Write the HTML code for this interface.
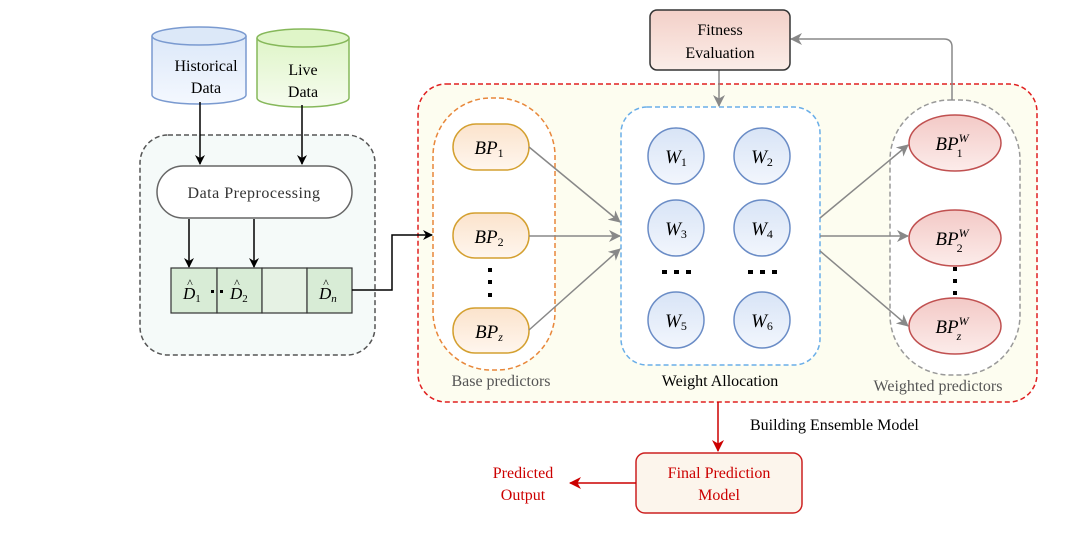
<!DOCTYPE html>
<html><head><meta charset="utf-8"><style>
html,body{margin:0;padding:0;background:#fff;}
svg{display:block;font-family:"Liberation Serif",serif;}
</style></head><body>
<svg width="1080" height="542" viewBox="0 0 1080 542" xmlns="http://www.w3.org/2000/svg">
<defs>
<marker id="ab" markerWidth="10" markerHeight="10" refX="9" refY="5" orient="auto" markerUnits="userSpaceOnUse"><path d="M0,0 L10,5 L0,10 L3,5 z" fill="#000"/></marker>
<marker id="ag" markerWidth="12" markerHeight="12" refX="11" refY="6" orient="auto" markerUnits="userSpaceOnUse"><path d="M0,0 L12,6 L0,12 L3.5,6 z" fill="#888"/></marker>
<marker id="ar" markerWidth="12" markerHeight="12" refX="11" refY="6" orient="auto" markerUnits="userSpaceOnUse"><path d="M0,0 L12,6 L0,12 L3.5,6 z" fill="#cc0000"/></marker>
<linearGradient id="gb" x1="0" y1="0" x2="0" y2="1"><stop offset="0" stop-color="#dce8f8"/><stop offset="1" stop-color="#f4f8ff"/></linearGradient>
<linearGradient id="gg" x1="0" y1="0" x2="0" y2="1"><stop offset="0" stop-color="#dff5c8"/><stop offset="1" stop-color="#f6fcef"/></linearGradient>
<linearGradient id="go" x1="0" y1="0" x2="0" y2="1"><stop offset="0" stop-color="#fbe3cc"/><stop offset="1" stop-color="#fff6ee"/></linearGradient>
<linearGradient id="gw" x1="0" y1="0" x2="0" y2="1"><stop offset="0" stop-color="#d8e4f6"/><stop offset="1" stop-color="#f2f6fd"/></linearGradient>
<linearGradient id="gr" x1="0" y1="0" x2="0" y2="1"><stop offset="0" stop-color="#f3c9c6"/><stop offset="1" stop-color="#fcecea"/></linearGradient>
<linearGradient id="gf" x1="0" y1="0" x2="0" y2="1"><stop offset="0" stop-color="#f3d0c8"/><stop offset="1" stop-color="#fbede8"/></linearGradient>
</defs>

<rect x="140" y="135" width="235" height="220" rx="28" fill="#f5faf9" stroke="#555" stroke-width="1.5" stroke-dasharray="5,3"/>

<path d="M152,36 L152,95 A47,9 0 0 0 246,95 L246,36" fill="url(#gb)" stroke="#7a9ad0" stroke-width="1.5"/>
<ellipse cx="199" cy="36" rx="47" ry="9" fill="#dce8f8" stroke="#7a9ad0" stroke-width="1.5"/>
<text x="206" y="71" font-size="16" text-anchor="middle">Historical</text>
<text x="206" y="93" font-size="16" text-anchor="middle">Data</text>
<path d="M257,38 L257,98 A46,9 0 0 0 349,98 L349,38" fill="url(#gg)" stroke="#86b85a" stroke-width="1.5"/>
<ellipse cx="303" cy="38" rx="46" ry="9" fill="#dff5c8" stroke="#86b85a" stroke-width="1.5"/>
<text x="303" y="75" font-size="16" text-anchor="middle">Live</text>
<text x="303" y="97" font-size="16" text-anchor="middle">Data</text>

<line x1="200" y1="102" x2="200" y2="164" stroke="#000" stroke-width="1.5" marker-end="url(#ab)"/>
<line x1="302" y1="105" x2="302" y2="164" stroke="#000" stroke-width="1.5" marker-end="url(#ab)"/>

<rect x="157" y="166" width="195" height="52" rx="26" fill="#fff" stroke="#666" stroke-width="1.5"/>
<text x="254" y="198" font-size="16" text-anchor="middle" fill="#333" letter-spacing="0.5">Data  Preprocessing</text>

<line x1="189" y1="219" x2="189" y2="267" stroke="#000" stroke-width="1.5" marker-end="url(#ab)"/>
<line x1="254" y1="219" x2="254" y2="267" stroke="#000" stroke-width="1.5" marker-end="url(#ab)"/>

<g stroke="#333" stroke-width="1.2" fill="#d8ecd6">
<rect x="171" y="268" width="46" height="45"/>
<rect x="217" y="268" width="45" height="45"/>
<rect x="262" y="268" width="45" height="45" fill="#e6f2e4"/>
<rect x="307" y="268" width="45" height="45"/>
</g>
<g font-size="17" font-style="italic">
<text x="183" y="299">D<tspan font-style="normal" font-size="11" dy="3">1</tspan></text>
<text x="230" y="299">D<tspan font-style="normal" font-size="11" dy="3">2</tspan></text>
<text x="319" y="299">D<tspan font-size="11" dy="3">n</tspan></text>
</g>
<g font-size="12" text-anchor="middle"><text x="190" y="287">^</text><text x="237" y="287">^</text><text x="326" y="287">^</text></g>
<rect x="211" y="290" width="3" height="3" fill="#000"/><rect x="220" y="290" width="3" height="3" fill="#000"/>

<rect x="418" y="84" width="619" height="318" rx="28" fill="#fdfdf0" stroke="#e02020" stroke-width="1.5" stroke-dasharray="5,3"/>

<polyline points="352,290 392,290 392,235 432,235" fill="none" stroke="#000" stroke-width="1.5" marker-end="url(#ab)"/>

<rect x="433" y="98" width="122" height="272" rx="58" fill="#fff" stroke="#e8873a" stroke-width="1.5" stroke-dasharray="5,3"/>
<g fill="url(#go)" stroke="#d4a030" stroke-width="1.5">
<rect x="453" y="124" width="76" height="46" rx="23"/>
<rect x="453" y="213" width="76" height="45" rx="22"/>
<rect x="453" y="308" width="76" height="45" rx="22"/>
</g>
<g font-size="19" font-style="italic" text-anchor="middle">
<text x="489" y="154">BP<tspan font-style="normal" font-size="12" dy="3">1</tspan></text>
<text x="489" y="243">BP<tspan font-style="normal" font-size="12" dy="3">2</tspan></text>
<text x="489" y="338">BP<tspan font-size="12" dy="3">z</tspan></text>
</g>
<g fill="#000"><rect x="488" y="268" width="4" height="4"/><rect x="488" y="280" width="4" height="4"/><rect x="488" y="293" width="4" height="4"/></g>
<text x="501" y="386" font-size="16" text-anchor="middle" fill="#555">Base predictors</text>

<rect x="621" y="107" width="199" height="258" rx="26" fill="#fff" stroke="#6aaee8" stroke-width="1.5" stroke-dasharray="5,3"/>
<g fill="url(#gw)" stroke="#6a8cc6" stroke-width="1.5">
<ellipse cx="676" cy="156" rx="28" ry="28"/><ellipse cx="762" cy="156" rx="28" ry="28"/>
<ellipse cx="676" cy="228" rx="28" ry="28"/><ellipse cx="762" cy="228" rx="28" ry="28"/>
<ellipse cx="676" cy="320" rx="28" ry="28"/><ellipse cx="762" cy="320" rx="28" ry="28"/>
</g>
<g font-size="19" font-style="italic" text-anchor="middle">
<text x="676" y="163">W<tspan font-style="normal" font-size="12" dy="3">1</tspan></text>
<text x="762" y="163">W<tspan font-style="normal" font-size="12" dy="3">2</tspan></text>
<text x="676" y="235">W<tspan font-style="normal" font-size="12" dy="3">3</tspan></text>
<text x="762" y="235">W<tspan font-style="normal" font-size="12" dy="3">4</tspan></text>
<text x="676" y="327">W<tspan font-style="normal" font-size="12" dy="3">5</tspan></text>
<text x="762" y="327">W<tspan font-style="normal" font-size="12" dy="3">6</tspan></text>
</g>
<g fill="#000">
<rect x="662" y="270" width="5" height="4"/><rect x="674" y="270" width="5" height="4"/><rect x="686" y="270" width="5" height="4"/>
<rect x="748" y="270" width="5" height="4"/><rect x="760" y="270" width="5" height="4"/><rect x="772" y="270" width="5" height="4"/>
</g>
<text x="720" y="386" font-size="16" text-anchor="middle">Weight Allocation</text>

<rect x="890" y="100" width="130" height="275" rx="60" fill="#fff" stroke="#999" stroke-width="1.5" stroke-dasharray="5,3"/>
<g fill="url(#gr)" stroke="#c05050" stroke-width="1.5">
<ellipse cx="955" cy="143" rx="46" ry="28"/>
<ellipse cx="955" cy="238" rx="46" ry="28"/>
<ellipse cx="955" cy="326" rx="46" ry="28"/>
</g>
<g font-size="19" font-style="italic" text-anchor="middle">
<text x="952" y="150">BP<tspan font-size="12" dy="-8">W</tspan><tspan font-style="normal" font-size="12" dx="-12" dy="15">1</tspan></text>
<text x="952" y="245">BP<tspan font-size="12" dy="-8">W</tspan><tspan font-style="normal" font-size="12" dx="-12" dy="15">2</tspan></text>
<text x="952" y="333">BP<tspan font-size="12" dy="-8">W</tspan><tspan font-size="12" dx="-12" dy="15">z</tspan></text>
</g>
<g fill="#000"><rect x="953" y="267" width="4" height="4"/><rect x="953" y="279" width="4" height="4"/><rect x="953" y="291" width="4" height="4"/></g>
<text x="938" y="391" font-size="16" text-anchor="middle" fill="#555">Weighted predictors</text>

<g stroke="#888" stroke-width="1.5" fill="none">
<line x1="529" y1="147" x2="620" y2="222" marker-end="url(#ag)"/>
<line x1="529" y1="236" x2="620" y2="236" marker-end="url(#ag)"/>
<line x1="529" y1="330" x2="620" y2="249" marker-end="url(#ag)"/>
<line x1="820" y1="218" x2="908" y2="145" marker-end="url(#ag)"/>
<line x1="820" y1="236" x2="908" y2="236" marker-end="url(#ag)"/>
<line x1="820" y1="251" x2="908" y2="326" marker-end="url(#ag)"/>
<line x1="719" y1="70" x2="719" y2="106" marker-end="url(#ag)"/>
<path d="M952,100 L952,47 Q952,39 944,39 L791,39" marker-end="url(#ag)"/>
</g>

<rect x="650" y="10" width="140" height="60" rx="7" fill="url(#gf)" stroke="#333" stroke-width="1.5"/>
<text x="720" y="35" font-size="16" text-anchor="middle">Fitness</text>
<text x="720" y="58" font-size="16" text-anchor="middle">Evaluation</text>

<text x="750" y="430" font-size="16">Building Ensemble Model</text>

<line x1="718" y1="402" x2="718" y2="451" stroke="#cc0000" stroke-width="1.5" marker-end="url(#ar)"/>
<rect x="636" y="453" width="166" height="60" rx="9" fill="#fcf5ec" stroke="#cc2020" stroke-width="1.5"/>
<text x="719" y="478" font-size="16" text-anchor="middle" fill="#cc0000">Final Prediction</text>
<text x="719" y="500" font-size="16" text-anchor="middle" fill="#cc0000">Model</text>
<line x1="636" y1="483" x2="570" y2="483" stroke="#cc0000" stroke-width="1.5" marker-end="url(#ar)"/>
<text x="523" y="478" font-size="16" text-anchor="middle" fill="#cc0000">Predicted</text>
<text x="523" y="500" font-size="16" text-anchor="middle" fill="#cc0000">Output</text>
</svg>
</body></html>
